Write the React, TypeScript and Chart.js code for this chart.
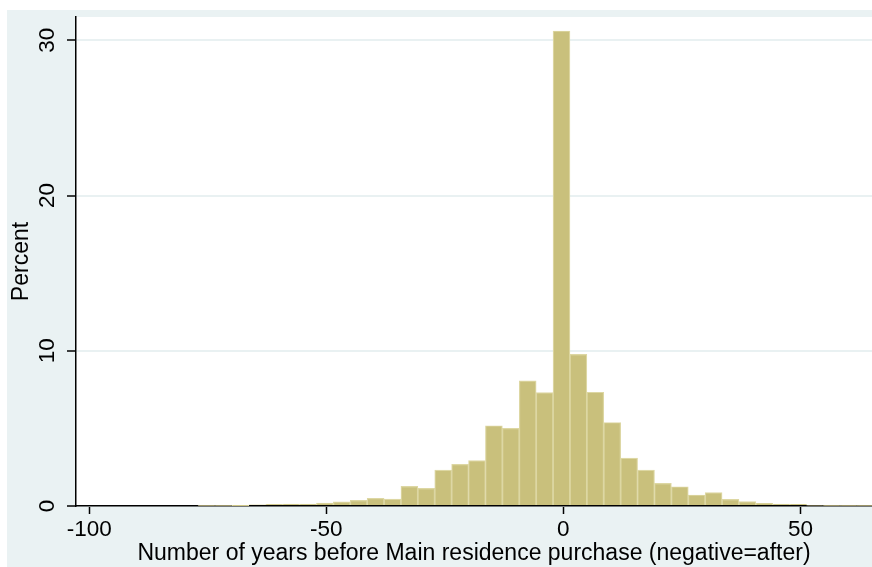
import { useEffect, useRef } from 'react';
import { Chart, registerables } from 'chart.js';
Chart.register(...registerables);

const FONT = "'Liberation Sans', Arial, sans-serif";

// histogram bins: left edge of the first bin and common width (years)
const binStart = -98.43;
const binWidth = 3.565;
// percent of observations per bin, left to right
const percent = [
  0, 0, 0, 0, 0, 0,
  0.03, 0.03, 0.02, 0.07, 0.1, 0.12, 0.13, 0.19, 0.27, 0.37, 0.49, 0.44,
  1.27, 1.14, 2.31, 2.68, 2.92, 5.17, 5.0, 8.06, 7.31,
  30.6,
  9.77, 7.33, 5.38, 3.09, 2.31, 1.46, 1.24, 0.71, 0.86, 0.43, 0.28, 0.17,
  0.13, 0.11, 0.05, 0.04, 0.03, 0.03,
];
const xTicks = [-100, -50, 0, 50];
const yTicks = [0, 10, 20, 30];

// white plot region, Stata style
const plotBg = {
  id: 'plotBg',
  beforeDraw(chart: any) {
    const { ctx, chartArea: a } = chart;
    ctx.save();
    ctx.fillStyle = '#fff';
    ctx.fillRect(a.left, a.top, a.right - a.left, a.bottom - a.top);
    ctx.restore();
  },
};

const yTickLabels = {
  id: 'yTickLabels',
  afterDraw(chart: any) {
    const { ctx } = chart;
    const y = chart.scales.y;
    ctx.save();
    ctx.fillStyle = '#000';
    ctx.font = `22.5px ${FONT}`;
    ctx.textAlign = 'center';
    ctx.textBaseline = 'alphabetic';
    y.ticks.forEach((t: any) => {
      const py = y.getPixelForValue(t.value);
      ctx.save();
      ctx.translate(46.5, py);
      ctx.rotate(-Math.PI / 2);
      ctx.fillText(String(t.value), 0, 0);
      ctx.restore();
    });
    ctx.restore();
  },
};

export default function App() {
  const ref = useRef<HTMLCanvasElement>(null);

  useEffect(() => {
    const chart = new Chart(ref.current!, {
      type: 'bar',
      data: {
        datasets: [{
          label: 'Percent',
          data: percent.map((v, i) => ({ x: binStart + binWidth * (i + 0.5), y: v })),
          backgroundColor: '#c9c07c',
          borderColor: '#ddd7a3',
          borderWidth: 1.2,
          categoryPercentage: 1,
          barPercentage: 1,
        }],
      },
      options: {
        animation: false,
        responsive: true,
        maintainAspectRatio: false,
        layout: { padding: { top: 7, right: 0, bottom: 0, left: 0 } },
        plugins: { legend: { display: false }, tooltip: { enabled: false } },
        scales: {
          x: {
            type: 'linear', min: -102.8, max: 65.1, offset: false, z: 1,
            afterBuildTicks: (s: any) => { s.ticks = xTicks.map(v => ({ value: v })); },
            afterFit: (s: any) => { s.height = 61; },
            grid: { offset: false, drawOnChartArea: false, drawTicks: true, tickLength: 8, tickColor: '#000', tickWidth: 1.5 },
            border: { display: true, color: '#000', width: 1.5 },
            ticks: { color: '#000', font: { family: FONT, size: 22.5 }, padding: 2, maxRotation: 0, autoSkip: false },
            title: {
              display: true, text: 'Number of years before Main residence purchase (negative=after)',
              color: '#000', font: { family: FONT, size: 23, lineHeight: 1.2 }, padding: { top: 0, bottom: 0 },
            },
          },
          y: {
            min: 0, max: 31.5,
            afterBuildTicks: (s: any) => { s.ticks = yTicks.map(v => ({ value: v })); },
            afterFit: (s: any) => { s.width = 69; },
            grid: { color: '#e9f1f2', lineWidth: 2, drawTicks: true, tickLength: 9, tickColor: '#000', tickWidth: 1.5 },
            border: { display: true, color: '#000', width: 1.5 },
            ticks: { display: false },
            title: {
              display: true, text: 'Percent', color: '#000',
              font: { family: FONT, size: 23, lineHeight: 1.2 }, padding: { top: 1, bottom: 0 },
            },
          },
        },
      },
      plugins: [plotBg, yTickLabels],
    });
    return () => chart.destroy();
  }, []);

  return (
    <div style={{ position: 'absolute', top: 10, left: 7, width: 865, height: 557, background: '#eaf2f3' }}>
      <canvas ref={ref} />
    </div>
  );
}
